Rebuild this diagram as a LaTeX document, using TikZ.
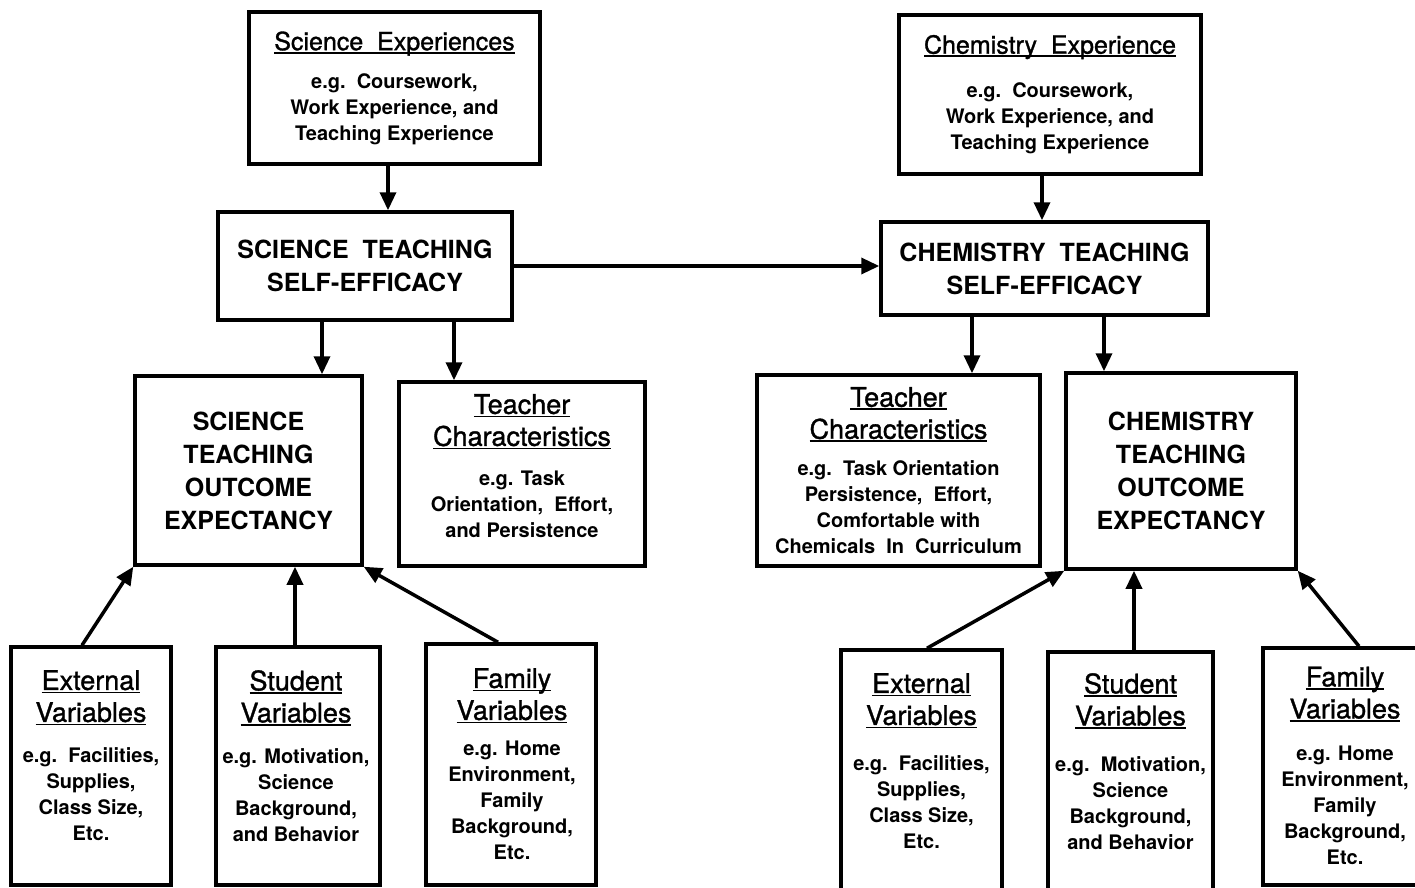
\documentclass[tikz,border=0pt]{standalone}
\usepackage{fontspec}
\setmainfont{TeX Gyre Heros}
\newfontfamily\headfam[FakeBold=1.2]{TeX Gyre Heros}
\usetikzlibrary{arrows.meta}

% underlined heading: rule drawn just under the baseline
\newcommand\ulh[1]{\setbox0=\hbox{#1}\rlap{\rule[-3.5pt]{\wd0}{1.8pt}}\box0}
\newcommand\hdtop[1]{{\fontsize{25}{25}\headfam\mdseries\ulh{#1}}}
\newcommand\hdbig[1]{{\fontsize{27}{27}\headfam\mdseries\ulh{#1}}}

\tikzset{
  box/.style={draw, line width=3.5pt, inner sep=0pt, align=center},
  capsfont/.style={font=\fontsize{25}{33}\selectfont\bfseries},
  bodyfont/.style={font=\fontsize{20}{26}\selectfont\bfseries},
  txt/.style={inner sep=0pt, align=center, anchor=north},
  arr/.style={line width=3.5pt, -{Triangle[length=18pt,width=16pt]}},
}

\begin{document}
\begin{tikzpicture}[x=1pt, y=-1pt]
\useasboundingbox (0,0) rectangle (1415,888);
\fill[white] (0,0) rectangle (1415,888);
\clip (0,0) rectangle (1415,888);

% ---- experience boxes ----
\node[box, bodyfont, minimum width=291pt, minimum height=152pt] (sciexp) at (394.5,88)
  {\hdtop{Science\ \ Experiences}\\[12pt]
   e.g.\ \ Coursework,\\ Work Experience, and\\ Teaching Experience};
\node[box, bodyfont, minimum width=302pt, minimum height=159pt] (chemexp) at (1050,94.5)
  {\hdtop{Chemistry\ \ Experience}\\[18pt]
   e.g.\ \ Coursework,\\ Work Experience, and\\ Teaching Experience};

% ---- self-efficacy boxes ----
\node[box, capsfont, minimum width=294pt, minimum height=108pt] (stse) at (365,266)
  {SCIENCE\ \ TEACHING\\ SELF-EFFICACY};
\node[box, capsfont, minimum width=327pt, minimum height=93pt] (ctse) at (1044.5,268.5)
  {CHEMISTRY\ \ TEACHING\\ SELF-EFFICACY};

% ---- outcome expectancy and teacher characteristics ----
\node[box, capsfont, minimum width=227pt, minimum height=189pt] (stoe) at (248.5,470.5)
  {SCIENCE\\ TEACHING\\ OUTCOME\\ EXPECTANCY};
\node[box, bodyfont, minimum width=246pt, minimum height=184pt] (tcsci) at (522,474)
  {\hdbig{Teacher}\\[6pt] \hdbig{Characteristics}\\[14pt]
   e.g. Task\\ Orientation,\ \ Effort,\\ and Persistence\\[-10pt]\mbox{}};
\node[box, bodyfont, minimum width=283pt, minimum height=191pt] (tcchem) at (898.5,470.5)
  {\hdbig{Teacher}\\[6pt] \hdbig{Characteristics}\\[11pt]
   e.g.\ \ Task Orientation\\ Persistence,\ \ Effort,\\ Comfortable with\\ Chemicals\ \ In\ \ Curriculum};
\node[box, capsfont, minimum width=230pt, minimum height=196pt] (ctoe) at (1181,471)
  {CHEMISTRY\\ TEACHING\\ OUTCOME\\ EXPECTANCY};

% ---- variable boxes (running past the lower edge) ----
\node[box, minimum width=160pt, minimum height=238pt] (extsci) at (91,766) {};
\node[box, minimum width=164pt, minimum height=238pt] (stusci) at (298,766) {};
\node[box, minimum width=170pt, minimum height=241pt] (famsci) at (511,764.5) {};
\node[box, minimum width=161pt, minimum height=250pt] (extchem) at (921.5,775) {};
\node[box, minimum width=165pt, minimum height=248pt] (stuchem) at (1130.5,776) {};
\node[box, minimum width=167pt, minimum height=237pt] (famchem) at (1346.5,766.5) {};

\node[txt, bodyfont] (extscit) at (91,670)
  {\hdbig{External}\\[6pt] \hdbig{Variables}\\[15pt]
   e.g.\ \ Facilities,\\ Supplies,\\ Class Size,\\ Etc.};
\node[txt, bodyfont] (stuscit) at (296,670)
  {\hdbig{Student}\\[6pt] \hdbig{Variables}\\[15pt]
   e.g. Motivation,\\ Science\\ Background,\\ and Behavior};
\node[txt, bodyfont] (famscit) at (512,668)
  {\hdbig{Family}\\[6pt] \hdbig{Variables}\\[10pt]
   e.g. Home\\ Environment,\\ Family\\ Background,\\ Etc.};
\node[txt, bodyfont] (extchemt) at (921.5,673)
  {\hdbig{External}\\[6pt] \hdbig{Variables}\\[20pt]
   e.g.\ \ Facilities,\\ Supplies,\\ Class Size,\\ Etc.};
\node[txt, bodyfont] (stuchemt) at (1130.5,673)
  {\hdbig{Student}\\[6pt] \hdbig{Variables}\\[20pt]
   e.g.\ \ Motivation,\\ Science\\ Background,\\ and Behavior};
\node[txt, bodyfont] (famchemt) at (1345,666.5)
  {\hdbig{Family}\\[6pt] \hdbig{Variables}\\[16pt]
   e.g. Home\\ Environment,\\ Family\\ Background,\\ Etc.};

% ---- connectors ----
\draw[arr] ([xshift=-6.5pt]sciexp.south) -- ([xshift=-6.5pt]sciexp.south |- stse.north);
\draw[arr] ([xshift=-8pt]chemexp.south) -- ([xshift=-8pt]chemexp.south |- ctse.north);
\draw[arr] (stse.east) -- (stse.east -| ctse.west);
\draw[arr] ([xshift=-43pt]stse.south) -- ([xshift=-43pt]stse.south |- stoe.north);
\draw[arr] ([xshift=89pt]stse.south) -- ([xshift=89pt]stse.south |- tcsci.north);
\draw[arr] ([xshift=-72.5pt]ctse.south) -- ([xshift=-72.5pt]ctse.south |- tcchem.north);
\draw[arr] ([xshift=59.5pt]ctse.south) -- ([xshift=59.5pt]ctse.south |- ctoe.north);
\draw[arr] ([xshift=-9pt]extsci.north) -- (stoe.south west);
\draw[arr] ([xshift=-3pt]stusci.north) -- ([xshift=-3pt]stusci.north |- stoe.south);
\draw[arr] ([xshift=-13pt]famsci.north) -- (stoe.south east);
\draw[arr] ([xshift=5.5pt]extchem.north) -- (ctoe.south west);
\draw[arr] ([xshift=3.5pt]stuchem.north) -- ([xshift=3.5pt]stuchem.north |- ctoe.south);
\draw[arr] ([xshift=12.5pt]famchem.north) -- (ctoe.south east);
\end{tikzpicture}
\end{document}
